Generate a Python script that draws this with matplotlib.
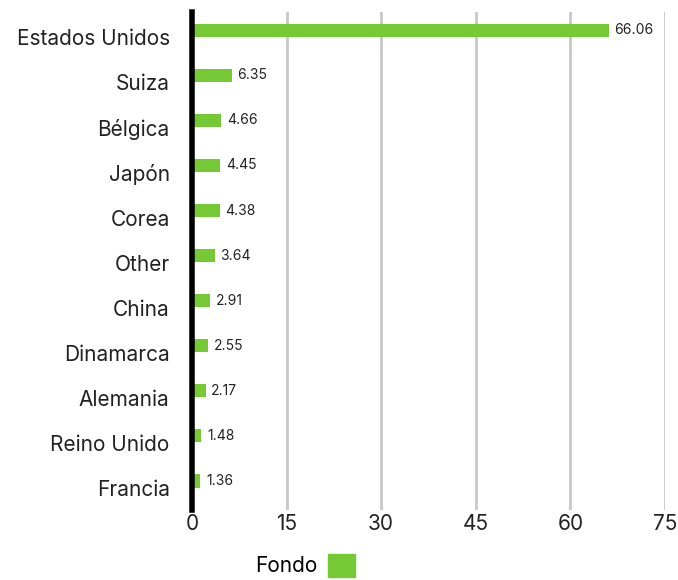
import numpy as np
import matplotlib
matplotlib.use('Agg')
from matplotlib import pyplot as plt
from matplotlib.patches import Patch
from matplotlib.transforms import ScaledTranslation

countries = ['Estados Unidos', 'Suiza', 'Bélgica', 'Japón', 'Corea', 'Other',
             'China', 'Dinamarca', 'Alemania', 'Reino Unido', 'Francia']
fondo = [66.06, 6.35, 4.66, 4.45, 4.38, 3.64, 2.91, 2.55, 2.17, 1.48, 1.36]
xticks = [0, 15, 30, 45, 60, 75]

plt.rcParams['font.family'] = ['Inter', 'DejaVu Sans']
green = '#74c934'

fig = plt.figure(figsize=(6.78, 5.8), dpi=100)
ax = fig.add_axes([0.283, 0.121, 0.698, 0.858])

y = np.arange(len(countries))
ax.barh(y, fondo, height=0.29, color=green, zorder=3)
for yi, v in zip(y, fondo):
    ax.text(v + 0.9, yi, '%.2f' % v, va='center', ha='left', fontsize=10, color='#222222')

ax.set_yticks(y)
ax.set_yticklabels(countries, fontsize=15, color='#222222')
ax.set_ylim(len(countries) - 0.36, -0.4)
ax.set_xlim(0, 75)
ax.set_xticks(xticks)
ax.set_xticklabels([str(t) for t in xticks], fontsize=15, color='#222222')
ax.tick_params(axis='y', length=0, pad=16)
ax.tick_params(axis='x', length=0, pad=3)
# labels sit slightly lower than the bars
for lab in ax.get_yticklabels():
    lab.set_transform(lab.get_transform() + ScaledTranslation(0, -0.07, fig.dpi_scale_trans))
ax.xaxis.grid(True, color='#c8c8c8', linewidth=2, zorder=0)
for s in ['top', 'right', 'bottom']:
    ax.spines[s].set_visible(False)
ax.spines['left'].set_linewidth(4)
ax.spines['left'].set_color('black')
ax.spines['left'].set_zorder(4)

fig.legend(handles=[Patch(color=green, label='Fondo')], loc='center',
           bbox_to_anchor=(0.45, 0.025), frameon=False, fontsize=15,
           markerfirst=False, handlelength=1.3, handleheight=1.3, handletextpad=0.5,
           borderpad=0.1)

plt.savefig('out.png', dpi=100)
